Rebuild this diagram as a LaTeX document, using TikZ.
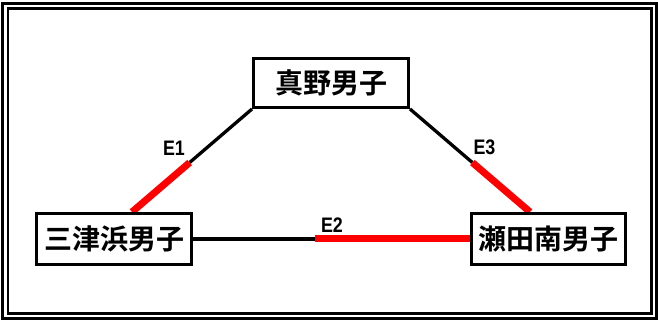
\documentclass[tikz,border=0pt]{standalone}
\usepackage{fontspec}
\newfontfamily\cjk{Noto Sans CJK JP}[BoldFont={* Bold}]
\newfontfamily\lab{Liberation Sans Bold}
\usetikzlibrary{calc}
\pgfdeclarelayer{bg}
\pgfsetlayers{bg,main}
\tikzset{
  person/.style={draw=black, line width=3pt, fill=white, minimum width=155pt,
    inner sep=0pt, font=\cjk\bfseries\fontsize{28}{28}\selectfont},
  blackedge/.style={draw=black, line width=3.3pt},
  rededge/.style={draw=red, line width=7pt},
  elabel/.style={inner sep=0pt, font=\lab\fontsize{21}{21}\selectfont}
}
\begin{document}
\begin{tikzpicture}[x=1pt,y=-1pt]
\useasboundingbox (0,0) rectangle (658,320);
\draw[line width=3pt] (2.5,3.5) rectangle (656.5,318.5);
\draw[line width=2.5pt] (8,8.5) rectangle (651.5,313.5);

\node[person, minimum height=49pt] (top) at (331,83) {真野男子};
\node[person, minimum height=51pt] (left) at (114,239) {三津浜男子};
\node[person, minimum height=51pt, minimum width=154pt] (right) at (548.5,239) {瀬田南男子};

\coordinate (lt) at ([xshift=18pt]left.north);
\coordinate (rt) at ([xshift=-18.5pt]right.north);
\coordinate (m1) at ($(top.south west)!0.52!(lt)$);
\coordinate (m2) at ($(left.east)!0.44!(right.west)$);
\coordinate (m3) at ($(top.south east)!0.52!(rt)$);

\begin{pgfonlayer}{bg}
\draw[blackedge] (top.south west) -- (m1);
\draw[rededge] (m1) -- (lt);
\draw[blackedge] (left.east) -- (m2);
\draw[rededge] (m2) -- (right.west);
\draw[blackedge] (top.south east) -- (m3);
\draw[rededge] (m3) -- (rt);
\end{pgfonlayer}

\node[elabel] (e1) at (174,148) {\scalebox{0.85}[1]{E1}};
\node[elabel] (e2) at (332,225) {\scalebox{0.85}[1]{E2}};
\node[elabel] (e3) at (484.5,147.5) {\scalebox{0.85}[1]{E3}};
\end{tikzpicture}
\end{document}
